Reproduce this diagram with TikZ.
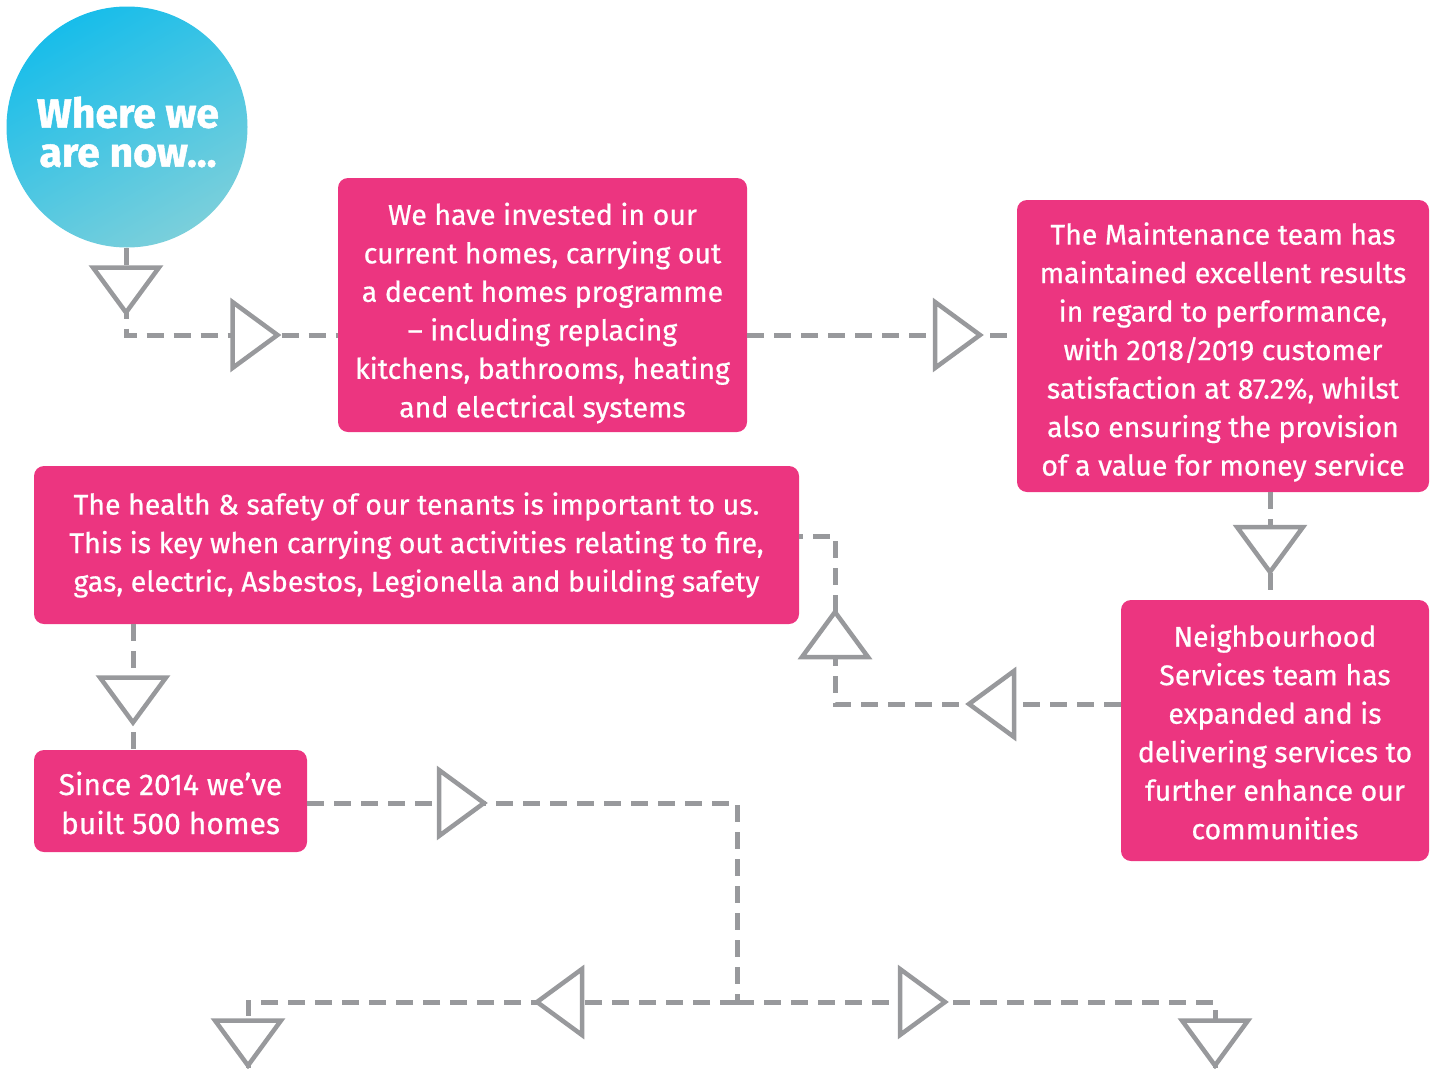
\documentclass[tikz,border=0pt]{standalone}
\usepackage{fontspec}
\setmainfont{Fira Sans}
\newfontfamily\boxfont[FakeBold=0.6]{Fira Sans}
\newfontfamily\circfont[BoldFeatures={FakeBold=1.2}]{Fira Sans}
\definecolor{pinkbox}{HTML}{EC3580}
\definecolor{conngray}{HTML}{98999C}
\definecolor{circtop}{HTML}{18BDEA}
\definecolor{circbot}{HTML}{7ACFDB}
\tikzset{
  pbox/.style={draw=none, fill=pinkbox, rounded corners=10pt, inner sep=0pt},
  btext/.style={text=white, align=center, inner sep=0pt, font=\boxfont\fontsize{28.5}{38.5}\selectfont},
  conn/.style={draw=conngray, line width=5pt, dash pattern=on 17pt off 10pt},
  trist/.style={draw=conngray, fill=white, line width=4.5pt, solid, line join=miter},
  tri/.pic={\path[trist] (-22.5,-33) -- (22.5,0) -- (-22.5,33) -- cycle;}
}
\begin{document}
\begin{tikzpicture}[x=1pt,y=-1pt]
\useasboundingbox (0,0) rectangle (1437,1068);
% nodes
\node[circle, minimum size=241pt, inner sep=0pt, top color=circtop, bottom color=circbot, shading angle=30] (circ) at (127,127) {};
\node[text=white, align=center, font=\circfont\bfseries\fontsize{41}{39}\selectfont] (circtext) at (128,132) {Where we\\are now...};
\node[pbox, minimum width=409pt, minimum height=254pt] (b1) at (542.5,305) {};
\node[btext] (b1t) at (542.5,313) {We have invested in our\\current homes, carrying out\\a decent homes programme\\– including replacing\\kitchens, bathrooms, heating\\and electrical systems};
\node[pbox, minimum width=412pt, minimum height=292pt] (b2) at (1223,346) {};
\node[btext] (b2t) at (1223,352) {The Maintenance team has\\maintained excellent results\\in regard to performance,\\with 2018/2019 customer\\satisfaction at 87.2\%, whilst\\also ensuring the provision\\of a value for money service};
\node[pbox, minimum width=765pt, minimum height=158pt] (b3) at (416.5,545) {};
\node[btext] (b3t) at (416.5,545) {The health \& safety of our tenants is important to us.\\This is key when carrying out activities relating to fire,\\gas, electric, Asbestos, Legionella and building safety};
\node[pbox, minimum width=308pt, minimum height=261pt] (b4) at (1275,730.5) {};
\node[btext] (b4t) at (1275,732) {Neighbourhood\\Services team has\\expanded and is\\delivering services to\\further enhance our\\communities};
\node[pbox, minimum width=273pt, minimum height=102pt] (b5) at (170.5,801) {};
\node[btext, font=\boxfont\fontsize{30}{39}\selectfont] (b5t) at (170.5,803) {Since 2014 we’ve\\built 500 homes};
% coordinates
\coordinate (k1) at (126,335);
\coordinate (k2) at (835,704);
\coordinate (k3) at (835,536);
\coordinate (k4) at (737,803);
\coordinate (k5) at (737,1002);
\coordinate (k6) at (248,1002);
\coordinate (k7) at (1215,1002);
\coordinate (e1) at (248,1068);
\coordinate (e2) at (1215,1068);
% connectors
\draw[conn] (circ.south -| k1) -- (k1) -- (b1.west |- k1);
\draw[conn] (b1.east |- k1) -- (b2.west |- k1);
\draw[conn] (b2.south -| 1270,0) -- (b4.north -| 1270,0);
\draw[conn] (b4.west |- k2) -- (k2) -- (k3) -- (b3.east |- k3);
\draw[conn] (b3.south -| 133,0) -- (b5.north -| 133,0);
\draw[conn] (b5.east |- k4) -- (k4) -- (k5);
\draw[conn] (k5) -- (k6) -- (e1);
\draw[conn] (k5) -- (k7) -- (e2);
% triangles
\pic[rotate=-90] at (126,290) {tri};
\pic at (255,335) {tri};
\pic at (957.5,335) {tri};
\pic[rotate=-90] at (1270,549.5) {tri};
\pic[rotate=180] at (991.5,704) {tri};
\pic[rotate=90] at (835,634.5) {tri};
\pic[rotate=-90] at (133,700) {tri};
\pic at (461.5,803) {tri};
\pic[rotate=180] at (559.5,1002) {tri};
\pic at (922.5,1002) {tri};
\pic[rotate=-90] at (248,1043) {tri};
\pic[rotate=-90] at (1215,1043) {tri};
\end{tikzpicture}
\end{document}
